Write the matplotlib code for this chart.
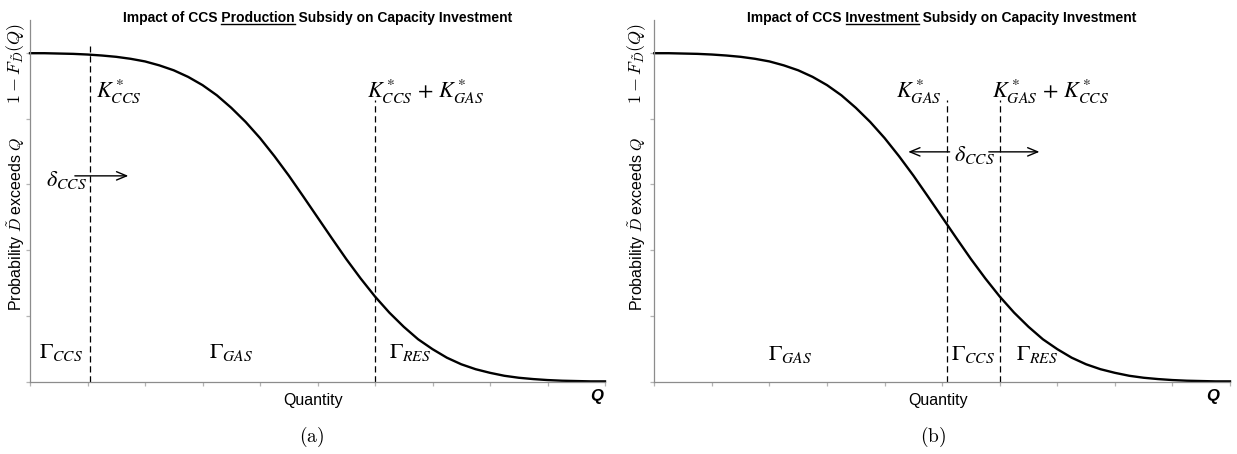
import matplotlib
matplotlib.use("Agg")
import matplotlib.pyplot as plt
from matplotlib.lines import Line2D

plt.rcParams['font.family'] = ['Liberation Sans', 'DejaVu Sans']
plt.rcParams['mathtext.fontset'] = 'custom'
plt.rcParams['mathtext.bf'] = 'Liberation Sans:bold'

# probability that demand exceeds Q (same curve in both panels)
quantity = [0.0, 0.25, 0.5, 0.75, 1.0, 1.25, 1.5, 1.75, 2.0, 2.25, 2.5, 2.75,
            3.0, 3.25, 3.5, 3.75, 4.0, 4.25, 4.5, 4.75, 5.0, 5.25, 5.5, 5.75,
            6.0, 6.25, 6.5, 6.75, 7.0, 7.25, 7.5, 7.75, 8.0, 8.25, 8.5, 8.75,
            9.0, 9.25, 9.5, 9.75, 10.0]
prob_exceed = [0.999, 0.999, 0.998, 0.997, 0.995, 0.992, 0.988, 0.982, 0.974,
               0.962, 0.947, 0.927, 0.902, 0.871, 0.833, 0.790, 0.741, 0.686,
               0.627, 0.564, 0.500, 0.436, 0.373, 0.314, 0.259, 0.210, 0.167,
               0.129, 0.099, 0.073, 0.053, 0.038, 0.027, 0.018, 0.012, 0.008,
               0.005, 0.003, 0.002, 0.001, 0.001]

# capacity cut-offs (dashed lines) and how high they reach
cap_a = [1.05, 6.0]
cap_top_a = [1.02, 0.858]
cap_b = [5.08, 6.0]
cap_top_b = [0.858, 0.858]

W, H = 1237, 454
fig = plt.figure(figsize=(W / 100, H / 100), dpi=100)
ax_a = fig.add_axes([30 / W, 1 - 381.7 / H, 575 / W, 361.7 / H])
ax_b = fig.add_axes([654.3 / W, 1 - 381.7 / H, 575.7 / W, 361.7 / H])

math_kw = dict(math_fontfamily='stix', fontsize=16, va='baseline', ha='left')


def style_axes(ax):
    ax.set_xlim(0, 10)
    ax.set_ylim(0, 1.1)
    ax.set_xticks(range(11))
    ax.set_yticks([0, 0.2, 0.4, 0.6, 0.8, 1.0])
    ax.set_xticklabels([])
    ax.set_yticklabels([])
    for s in ['top', 'right']:
        ax.spines[s].set_visible(False)
    for s in ['left', 'bottom']:
        ax.spines[s].set_color('#8c8c8c')
        ax.spines[s].set_linewidth(0.9)
    ax.tick_params(color='#b4b4b4', length=3, width=0.9, direction='out')
    ax.patch.set_visible(False)


def title_with_underline(ax, pre, word, post):
    y_ax = 0.995
    t = ax.text(0.5, y_ax, pre + word + post, transform=ax.transAxes, ha='center',
                va='baseline', fontsize=10, fontweight='bold')
    r = fig.canvas.get_renderer()
    bb = t.get_window_extent(r)
    probe = ax.text(0, 0, pre + word, fontsize=10, fontweight='bold')
    w_end = probe.get_window_extent(r).width
    probe.set_text(word)
    w_word = probe.get_window_extent(r).width
    probe.remove()
    x1 = bb.x0 + w_end
    x0 = x1 - w_word
    base_y = ax.transAxes.transform((0.5, y_ax))[1]
    inv = fig.transFigure.inverted()
    (fx0, fy), (fx1, _) = inv.transform([(x0, base_y - 2.5), (x1, base_y - 2.5)])
    fig.add_artist(Line2D([fx0, fx1], [fy, fy], transform=fig.transFigure,
                          color='black', lw=1.0))


def common_labels(ax, ylab_x, q_x, cap_x, cap_label):
    xt = ax.get_xaxis_transform()
    ax.text(ylab_x, 0.436, r'Probability $\tilde{D}$ exceeds $Q$', transform=ax.transAxes,
            rotation=90, ha='center', va='center', fontsize=11.5, math_fontfamily='cm')
    ax.text(ylab_x, 0.88, r'$1-F_{\tilde{D}}(Q)$', transform=ax.transAxes,
            rotation=90, ha='center', va='center', fontsize=13, math_fontfamily='cm')
    ax.text(4.93, -0.0506, 'Quantity', transform=xt, ha='center', va='center', fontsize=11.5)
    ax.text(q_x, -0.04, 'Q', transform=xt, ha='center', va='center', fontsize=12,
            fontweight='bold', fontstyle='italic')
    ax.text(cap_x, -0.152, cap_label, transform=xt, ha='center', va='center',
            fontsize=14, math_fontfamily='cm')


def arrow(ax, x0, x1, y):
    ax.annotate('', xy=(x1, y), xytext=(x0, y),
                arrowprops=dict(arrowstyle='->,head_length=0.6,head_width=0.25',
                                lw=1.0, color='black', shrinkA=0, shrinkB=0,
                                mutation_scale=12))


# (a) production subsidy
ax = ax_a
style_axes(ax)
ax.plot(quantity, prob_exceed, color='black', lw=1.7, clip_on=False)
ax.vlines(cap_a, 0, cap_top_a, colors='black', lw=0.9, linestyles=(0, (5, 3)))
ax.text(1.15, 0.864, r'$K^*_{CCS}$', **math_kw)
ax.text(5.86, 0.864, r'$K^*_{CCS}\,+\,K^*_{GAS}$', **math_kw)
ax.text(0.28, 0.594, r'$\delta_{CCS}$', **math_kw)
arrow(ax, 0.78, 1.71, 0.626)
ax.text(0.16, 0.071, r'$\Gamma_{CCS}$', **math_kw)
ax.text(3.11, 0.071, r'$\Gamma_{GAS}$', **math_kw)
ax.text(6.24, 0.071, r'$\Gamma_{RES}$', **math_kw)
common_labels(ax, -0.0243, 9.85, 4.9, r'$\mathrm{(a)}$')
title_with_underline(ax, 'Impact of CCS ', 'Production', ' Subsidy on Capacity Investment')

# (b) investment subsidy
ax = ax_b
style_axes(ax)
ax.plot(quantity, prob_exceed, color='black', lw=1.7, clip_on=False)
ax.vlines(cap_b, 0, cap_top_b, colors='black', lw=0.9, linestyles=(0, (5, 3)))
ax.text(4.2, 0.864, r'$K^*_{GAS}$', **math_kw)
ax.text(5.87, 0.864, r'$K^*_{GAS}\,+\,K^*_{CCS}$', **math_kw)
ax.text(5.2, 0.67, r'$\delta_{CCS}$', **math_kw)
arrow(ax, 5.13, 4.41, 0.699)
arrow(ax, 5.81, 6.69, 0.699)
ax.text(1.97, 0.065, r'$\Gamma_{GAS}$', **math_kw)
ax.text(5.16, 0.065, r'$\Gamma_{CCS}$', **math_kw)
ax.text(6.29, 0.065, r'$\Gamma_{RES}$', **math_kw)
common_labels(ax, -0.030, 9.69, 4.85, r'$\mathrm{(b)}$')
title_with_underline(ax, 'Impact of CCS ', 'Investment', ' Subsidy on Capacity Investment')

fig.savefig('out.png', dpi=100)
